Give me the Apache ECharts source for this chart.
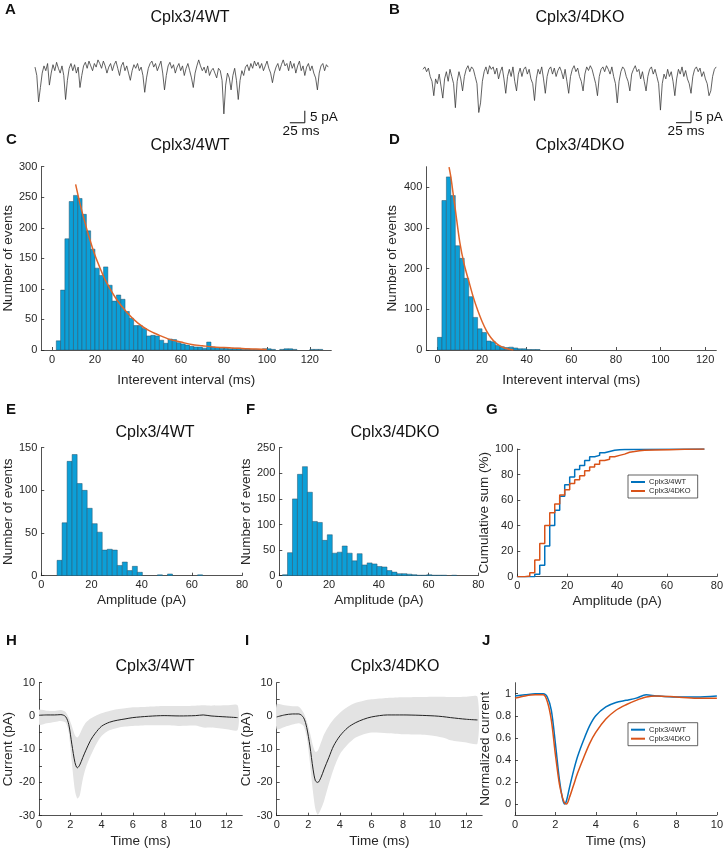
<!DOCTYPE html>
<html>
<head>
<meta charset="utf-8">
<title>Cplx3/4 miniature events</title>
<script src="https://cdn.jsdelivr.net/npm/echarts@6.0.0/dist/echarts.min.js"></script>
<style>
  html, body { margin: 0; padding: 0; background: #fff; }
  #fig { width: 726px; height: 853px; }
</style>
</head>
<body>
<div id="fig"></div>
<script>
// ==============================================================
// values
// ==============================================================
var traceStep = 3; // ms between samples (A, B)
var traceWT = [0.5, -3, -14, -8, -2, 1, -1, 2, -7, -2, 1.5, -1, 2.5, 0, -2, 1, -3, -13, -5, 0,
  2, -1, 1.5, -2, 0.5, -8, -3, 1, 2.5, 0, 3, 1, -1, 2, 0.5, 3.5, 2, 0, 3, 1,
  -2, 0.5, 2, -1, 1.5, 3, 0, -3, 1, 2.5, -1, 1, -2, -5, -1, 1.5, 0, 2, -1, 0.5,
  -3, -10, -4, 0, 2, 3, 0.5, 2, -1, 1, 3, -2, -9, -3, 1, 2.5, 0, 1.5, -2, 0.5,
  2, -1, 1, -3, 0, 2, -1, -4, -8, -2, 1, 3.5, 1, -1, 0.5, -2, 1, -3, -1, 0,
  -2, -4, 0, -1, -5, -19, -7, -2, -4, -9, -3, 0, -5, -13, -5, -1, -3, 0.5, 1.5, -1,
  2, 0, 3, 1, 2.5, 0, 2, -1, 1, 3, 0, -2, -6, -2, 0.5, 2, -1, 1.5, 3.5, 1,
  2, -1, 3, 0, 2, -2, 1, 3, -1, 1, -3, 0.5, 2, -1, 1, -2, -4, -9, -2, 1,
  2, -1, 1.5, 0.5];
var traceDKO = [1, 2, 0, 1.5, -2, -4, -10, -3, -5, -1, -6, -11, -3, 0, -4, 1, -2, -5, -15, -4,
  0, -3, -8, -2, 1, 2.5, 0, 2, 1, -2, -5, -17, -13, -4, 0, 2, -1, 2.5, 1, 2,
  -1, 1.5, -3, 0, 2, -3, -9, -2, 1, -2, 2, -4, -8, -1, 1.5, -2, 1, 2, -1, 1,
  -3, -5, -12, -3, 1, -1, 2, -3, -9, -2, 1, 2, -1, 1.5, -2, 0.5, 2, 0, -3, 1,
  -4, -9, -2, 1, 2.5, 0, 1.5, -2, -4, -8, -1, 2, 0.5, 2.5, 1, -2, -5, -10, -2, 1,
  2, 0, 2.5, 1, -1, 2, -2, -5, -13, -4, 0, 2, 1, -2, -4, -8, -1, 1, 2.5, 0,
  1, -3, 0, -4, -8, -2, 1, 2, -1, 1, -2, -5, -16, -5, -1, -3, 1, -2, 0, -4,
  -10, -3, 1, -1, 2, -2, 0.5, -3, -5, -9, -2, 1, 2, 0, 1.5, -2, 0, -3, -5, -10,
  -8, -2, 1, 2];
var scaleMs = 25, scalePa = 5;

var binWidth = 2;
var ieiStartWT = 2;
var ieiCountsWT = [15, 98, 182, 243, 253, 248, 222, 195, 165, 134, 122, 136, 106, 80, 90, 83, 63, 52, 40, 40,
  35, 23, 24, 23, 16, 11, 18, 17, 12, 10, 8, 6, 5, 5, 3, 13, 5, 4, 3, 3,
  2, 3, 3, 1, 2, 1, 1, 1, 2, 2, 1, 0, 1, 2, 2, 1, 0, 0, 0, 1, 1, 1];
var ieiFitXWT = [11, 13, 15, 17.5, 20, 22.5, 25, 30, 35, 40, 45, 50, 55, 60, 65, 70, 75, 80, 85, 90, 95, 100];
var ieiFitYWT = [271, 240, 213, 182, 155, 133, 113, 83, 61, 44, 32, 24, 17, 13, 9, 7, 5, 4, 3, 2, 1.5, 1];
var ieiStartDKO = 0;
var ieiCountsDKO = [31, 367, 425, 379, 256, 225, 176, 131, 80, 52, 43, 22, 20, 11, 8, 6, 7, 5, 3, 3, 1, 1, 1];
var ieiFitXDKO = [5.2, 6, 7, 8, 10, 12, 14, 16, 18, 20, 22, 24, 26, 28, 30, 32, 34];
var ieiFitYDKO = [449, 425, 385, 345, 265, 210, 170, 131, 98, 70, 47, 30, 18, 10, 5, 2, 0];

var ampStartWT = 6.3;
var ampCountsWT = [18, 62, 134, 142, 108, 100, 79, 61, 51, 30, 31, 30, 12, 16, 6, 11, 4, 0, 0, 0,
  1, 0, 2, 0, 0, 0, 0, 0, 1];
var ampStartDKO = 1.3;
var ampCountsDKO = [2, 45, 150, 198, 213, 163, 106, 104, 69, 80, 44, 46, 58, 44, 29, 43, 21, 25, 23, 18,
  17, 10, 7, 4, 4, 3, 2, 1, 1, 2, 1, 1, 1, 0, 1];

var cumAmpWT = [0, 7, 9, 11, 13, 15, 17, 19, 21, 23, 25, 27, 29, 31, 33, 35, 37, 39, 41, 43, 75];
var cumWT = [0, 2, 9, 24, 40, 52, 63, 72, 78, 84, 87, 91, 94, 95, 97, 98, 99, 99.5, 99.7, 100, 100];
var cumAmpDKO = [0, 3, 5, 7, 9, 11, 13, 15, 17, 19, 21, 23, 25, 27, 29, 31, 33, 35, 37, 39,
  41, 43, 45, 47, 49, 51, 55, 61, 67, 75];
var cumDKO = [0, 0.5, 3, 13, 26, 40, 50, 57, 64, 68, 73, 76, 79, 83, 86, 88, 91, 92, 94, 95,
  96, 97.5, 98, 98.6, 99, 99.2, 99.5, 99.8, 100, 100];

var avgTime = [0, 0.5, 1, 1.4, 1.7, 1.9, 2.1, 2.3, 2.45, 2.6, 2.8, 3.0, 3.3, 3.6, 4.0, 4.5, 5.0, 5.5, 6.0, 7,
  8, 9, 10, 10.5, 11, 12, 12.7];
var meanWT = [0.2, 0.3, 0.3, 0.4, -0.2, -2.5, -8.5, -14, -15.6, -14.8, -12.5, -10.3, -7.3, -5.2, -3.1, -1.9, -1.3, -0.9, -0.5, -0.1,
  0.1, 0, 0.1, 0.3, 0, -0.3, -0.5];
var upperWT = [1.8, 1.6, 1.5, 1.8, 1.2, -0.5, -3, -5.8, -6.5, -5.5, -3.5, -2, -0.8, 0, 0.8, 1.5, 2, 2.3, 2.6, 2.8,
  3, 3, 3.1, 3.2, 3.1, 3.2, 3.2];
var lowerWT = [-2.6, -2.2, -1.8, -1.5, -2, -5, -14, -22.5, -24.8, -24, -19, -15.5, -12, -9, -6, -4.3, -3.6, -3.2, -3, -2.8,
  -2.8, -3, -2.9, -3.5, -3.5, -4, -4.2];
var meanDKO = [-0.3, 0.3, 0.6, 0.6, -0.5, -3.5, -9, -16, -19.5, -20, -18.5, -16, -12.5, -9, -6, -3.5, -2, -1, -0.3, 0.3,
  0.3, 0.2, 0, -0.2, -0.5, -1, -1.2];
var upperDKO = [3.5, 3.2, 2.9, 2.8, 1, -1.5, -5, -9, -10.8, -10.5, -8, -5.5, -3, -1, 1, 2.8, 4, 4.6, 5, 5.4,
  5.6, 5.7, 5.8, 5.8, 5.7, 5.8, 5.8];
var lowerDKO = [-4, -3.3, -2.6, -2.2, -3, -6.5, -14, -23, -28, -29.7, -28, -25.5, -20.5, -16, -11.5, -8.5, -6.5, -5.5, -5, -5.2,
  -5.5, -5.6, -6, -6.5, -7.3, -8, -8.3];

var normTime = [0, 0.5, 1, 1.4, 1.6, 1.8, 2.0, 2.2, 2.35, 2.45, 2.55, 2.7, 2.9, 3.1, 3.4, 3.7, 4.0, 4.5, 5.0, 5.5,
  6.0, 6.5, 7, 8, 9, 10];
var normWT = [0.98, 0.99, 1.0, 1.0, 0.97, 0.85, 0.55, 0.22, 0.05, 0, 0.03, 0.15, 0.3, 0.43, 0.58, 0.71, 0.8, 0.88, 0.92, 0.94,
  0.96, 0.99, 0.98, 0.97, 0.97, 0.98];
var normDKO = [0.96, 0.98, 0.99, 0.99, 0.93, 0.76, 0.45, 0.18, 0.06, 0.01, 0, 0.06, 0.17, 0.28, 0.42, 0.55, 0.65, 0.77, 0.85, 0.9,
  0.94, 0.97, 0.98, 0.97, 0.96, 0.96];

var ticksIEI = [0, 20, 40, 60, 80, 100, 120];
var ticksAmp = [0, 20, 40, 60, 80];
var ticksTime = [0, 2, 4, 6, 8, 10, 12];
var ticksNormTime = [0, 2, 4, 6, 8, 10];
var ticksCurrent = [-30, -25, -20, -15, -10, -5, 0, 5, 10];
var labelsCurrent = [-30, -20, -10, 0, 10];

var nameWT = 'Cplx3/4WT', nameDKO = 'Cplx3/4DKO';

// ==============================================================
// style
// ==============================================================
var font = '"Liberation Sans", Arial, Helvetica, sans-serif';
var ink = '#262626';
var barBlue = '#0c9fd7';
var barEdge = '#28536a';
var fitOrange = '#e0652a';
var lineBlue = '#0072bd';
var lineOrange = '#d95319';
var bandGray = '#e3e3e3';

function pairs(xs, ys) {
  return xs.map(function (x, i) { return [x, ys[i]]; });
}
function traceData(vals) {
  return vals.map(function (v, i) { return [i * traceStep, v]; });
}
function bins(start, counts) {
  return counts.map(function (c, i) { return [start + i * binWidth, start + (i + 1) * binWidth, c]; });
}

function histRect(params, api) {
  var h = api.value(2);
  if (!(h > 0)) return;
  var a = api.coord([api.value(0), h]);
  var b = api.coord([api.value(1), 0]);
  return {
    type: 'rect',
    shape: { x: a[0], y: a[1], width: b[0] - a[0], height: b[1] - a[1] },
    style: { fill: barBlue, stroke: barEdge, lineWidth: 0.5 }
  };
}

function axis(grid, min, max, ticks, labels, name, gap) {
  return {
    type: 'value', gridIndex: grid, min: min, max: max,
    name: name, nameLocation: 'middle', nameGap: gap,
    nameTextStyle: { color: ink, fontSize: 13.5, fontFamily: font },
    axisLine: { onZero: false, lineStyle: { color: ink, width: 0.8 } },
    axisTick: { inside: true, length: 3, customValues: ticks, lineStyle: { color: ink, width: 0.8 } },
    axisLabel: { customValues: labels, fontSize: 11, color: ink, fontFamily: font, margin: 4 },
    splitLine: { show: false }
  };
}
function hiddenAxis(grid, min, max) {
  return { type: 'value', gridIndex: grid, min: min, max: max, show: false, splitLine: { show: false } };
}

function hist(idx, data) {
  return {
    type: 'custom', xAxisIndex: idx, yAxisIndex: idx, renderItem: histRect,
    encode: { x: [0, 1], y: 2 }, data: data, silent: true, clip: true
  };
}
function line(idx, data, color, width, extra) {
  return Object.assign({
    type: 'line', xAxisIndex: idx, yAxisIndex: idx, data: data,
    showSymbol: false, symbol: 'none', color: color,
    lineStyle: { color: color, width: width }, silent: true, animation: false
  }, extra || {});
}
// mean +/- SD shading drawn as one polygon through the axis scales
function band(idx, up, lo) {
  return {
    type: 'custom', xAxisIndex: idx, yAxisIndex: idx, silent: true, clip: true,
    data: avgTime.map(function (t, i) { return [t, lo[i], up[i]]; }),
    encode: { x: 0, y: [1, 2] },
    renderItem: function (params, api) {
      if (params.dataIndex > 0) return;
      var top = avgTime.map(function (t, i) { return api.coord([t, up[i]]); });
      var bottom = avgTime.map(function (t, i) { return api.coord([t, lo[i]]); }).reverse();
      return {
        type: 'polygon',
        shape: { points: top.concat(bottom), smooth: 0.25 },
        style: { fill: bandGray }
      };
    }
  };
}

function txt(s, x, y, size, bold, align) {
  return {
    type: 'text', x: x, y: y, silent: true,
    style: {
      text: s, fill: '#111', font: (bold ? 'bold ' : '') + size + 'px ' + font,
      textAlign: align || 'left', textVerticalAlign: 'middle'
    }
  };
}

var legendBase = {
  data: [nameWT, nameDKO], orient: 'vertical', left: 628, selectedMode: false,
  icon: 'rect', itemWidth: 14, itemHeight: 2, itemGap: 1,
  padding: [3, 7, 3, 3], borderColor: '#3a3a3a', borderWidth: 0.8,
  textStyle: { fontSize: 7.5, color: ink, fontFamily: font, padding: [0, 0, 0, -1] }
};

var chart = echarts.init(document.getElementById('fig'));

var option = {
  animation: false,
  backgroundColor: '#fff',
  textStyle: { fontFamily: font },
  grid: [
    { left: 35, top: 53.9, width: 295, height: 72 },
    { left: 423, top: 57.3, width: 295, height: 72 },
    { left: 39.3, top: 166.7, width: 292, height: 183.3 },
    { left: 426.3, top: 166.7, width: 290, height: 183.3 },
    { left: 40, top: 447.7, width: 202, height: 128 },
    { left: 279.3, top: 447.7, width: 199, height: 128 },
    { left: 517.3, top: 449, width: 200, height: 127.7 },
    { left: 38.3, top: 682.7, width: 204, height: 133 },
    { left: 276.7, top: 682.7, width: 205.5, height: 133 },
    { left: 515, top: 682.7, width: 204.3, height: 132.3 }
  ],
  xAxis: [
    hiddenAxis(0, 0, 492),
    hiddenAxis(1, 0, 492),
    axis(2, -5, 130, ticksIEI, ticksIEI, 'Interevent interval (ms)', 23),
    axis(3, -5, 125, ticksIEI, ticksIEI, 'Interevent interval (ms)', 23),
    axis(4, 0, 80, ticksAmp, ticksAmp, 'Amplitude (pA)', 18),
    axis(5, 0, 80, ticksAmp, ticksAmp, 'Amplitude (pA)', 18),
    axis(6, 0, 80, ticksAmp, ticksAmp, 'Amplitude (pA)', 18),
    axis(7, 0, 13, ticksTime, ticksTime, 'Time (ms)', 19),
    axis(8, 0, 13, ticksTime, ticksTime, 'Time (ms)', 19),
    axis(9, 0, 10, ticksNormTime, ticksNormTime, 'Time (ms)', 19)
  ],
  yAxis: [
    hiddenAxis(0, -24, 6),
    hiddenAxis(1, -24, 6),
    axis(2, 0, 300, [0, 50, 100, 150, 200, 250, 300], [0, 50, 100, 150, 200, 250, 300], 'Number of events', 20),
    axis(3, 0, 450, [0, 100, 200, 300, 400], [0, 100, 200, 300, 400], 'Number of events', 27),
    axis(4, 0, 150, [0, 50, 100, 150], [0, 50, 100, 150], 'Number of events', 25),
    axis(5, 0, 250, [0, 50, 100, 150, 200, 250], [0, 50, 100, 150, 200, 250], 'Number of events', 23),
    axis(6, 0, 100, [0, 20, 40, 60, 80, 100], [0, 20, 40, 60, 80, 100], 'Cumulative sum (%)', 24),
    axis(7, -30, 10, ticksCurrent, labelsCurrent, 'Current (pA)', 24),
    axis(8, -30, 10, ticksCurrent, labelsCurrent, 'Current (pA)', 21),
    axis(9, -0.1, 1.1, [0, 0.2, 0.4, 0.6, 0.8, 1], [0, 0.2, 0.4, 0.6, 0.8, 1], 'Normalized current', 22)
  ],
  legend: [
    Object.assign({}, legendBase, { top: 475 }),
    Object.assign({}, legendBase, { top: 722.7 })
  ],
  graphic: [
    txt('A', 5, 10, 15, true), txt('B', 389, 10, 15, true),
    txt('C', 6, 140, 15, true), txt('D', 389, 140, 15, true),
    txt('E', 6, 410, 15, true), txt('F', 246, 410, 15, true), txt('G', 486, 410, 15, true),
    txt('H', 6, 641, 15, true), txt('I', 245, 641, 15, true), txt('J', 482, 641, 15, true),
    txt(nameWT, 190, 18, 16, false, 'center'), txt(nameDKO, 580, 18, 16, false, 'center'),
    txt(nameWT, 190, 146, 16, false, 'center'), txt(nameDKO, 580, 146, 16, false, 'center'),
    txt(nameWT, 155, 433, 16, false, 'center'), txt(nameDKO, 395, 433, 16, false, 'center'),
    txt(nameWT, 155, 667, 16, false, 'center'), txt(nameDKO, 395, 667, 16, false, 'center'),
    txt(scalePa + ' pA', 310, 117, 13.5), txt(scaleMs + ' ms', 301, 131, 13.5, false, 'center'),
    txt(scalePa + ' pA', 695, 117, 13.5), txt(scaleMs + ' ms', 686, 131, 13.5, false, 'center')
  ],
  series: [
    // A, B raw traces with scale bars
    line(0, traceData(traceWT), '#3a3a3a', 0.8),
    line(0, [[425, -22.7], [425 + scaleMs, -22.7], [425 + scaleMs, -22.7 + scalePa]], '#111', 1),
    line(1, traceData(traceDKO), '#3a3a3a', 0.8),
    line(1, [[422, -21.25], [422 + scaleMs, -21.25], [422 + scaleMs, -21.25 + scalePa]], '#111', 1),
    // C, D interevent interval histograms with fits
    hist(2, bins(ieiStartWT, ieiCountsWT)),
    line(2, pairs(ieiFitXWT, ieiFitYWT), fitOrange, 1.5, { smooth: 0.3 }),
    hist(3, bins(ieiStartDKO, ieiCountsDKO)),
    line(3, pairs(ieiFitXDKO, ieiFitYDKO), fitOrange, 1.5, { smooth: 0.3 }),
    // E, F amplitude histograms
    hist(4, bins(ampStartWT, ampCountsWT)),
    hist(5, bins(ampStartDKO, ampCountsDKO)),
    // G cumulative amplitude
    line(6, pairs(cumAmpWT, cumWT), lineBlue, 1.5, { name: nameWT, step: 'end' }),
    line(6, pairs(cumAmpDKO, cumDKO), lineOrange, 1.5, { name: nameDKO, step: 'end' }),
    // H, I averaged events with SD band
    band(7, upperWT, lowerWT),
    line(7, pairs(avgTime, meanWT), '#222', 1, { smooth: 0.3 }),
    band(8, upperDKO, lowerDKO),
    line(8, pairs(avgTime, meanDKO), '#222', 1, { smooth: 0.3 }),
    // J normalised averages
    line(9, pairs(normTime, normWT), lineBlue, 1.5, { name: nameWT, smooth: 0.3 }),
    line(9, pairs(normTime, normDKO), lineOrange, 1.5, { name: nameDKO, smooth: 0.3 })
  ]
};

chart.setOption(option);
</script>
</body>
</html>
